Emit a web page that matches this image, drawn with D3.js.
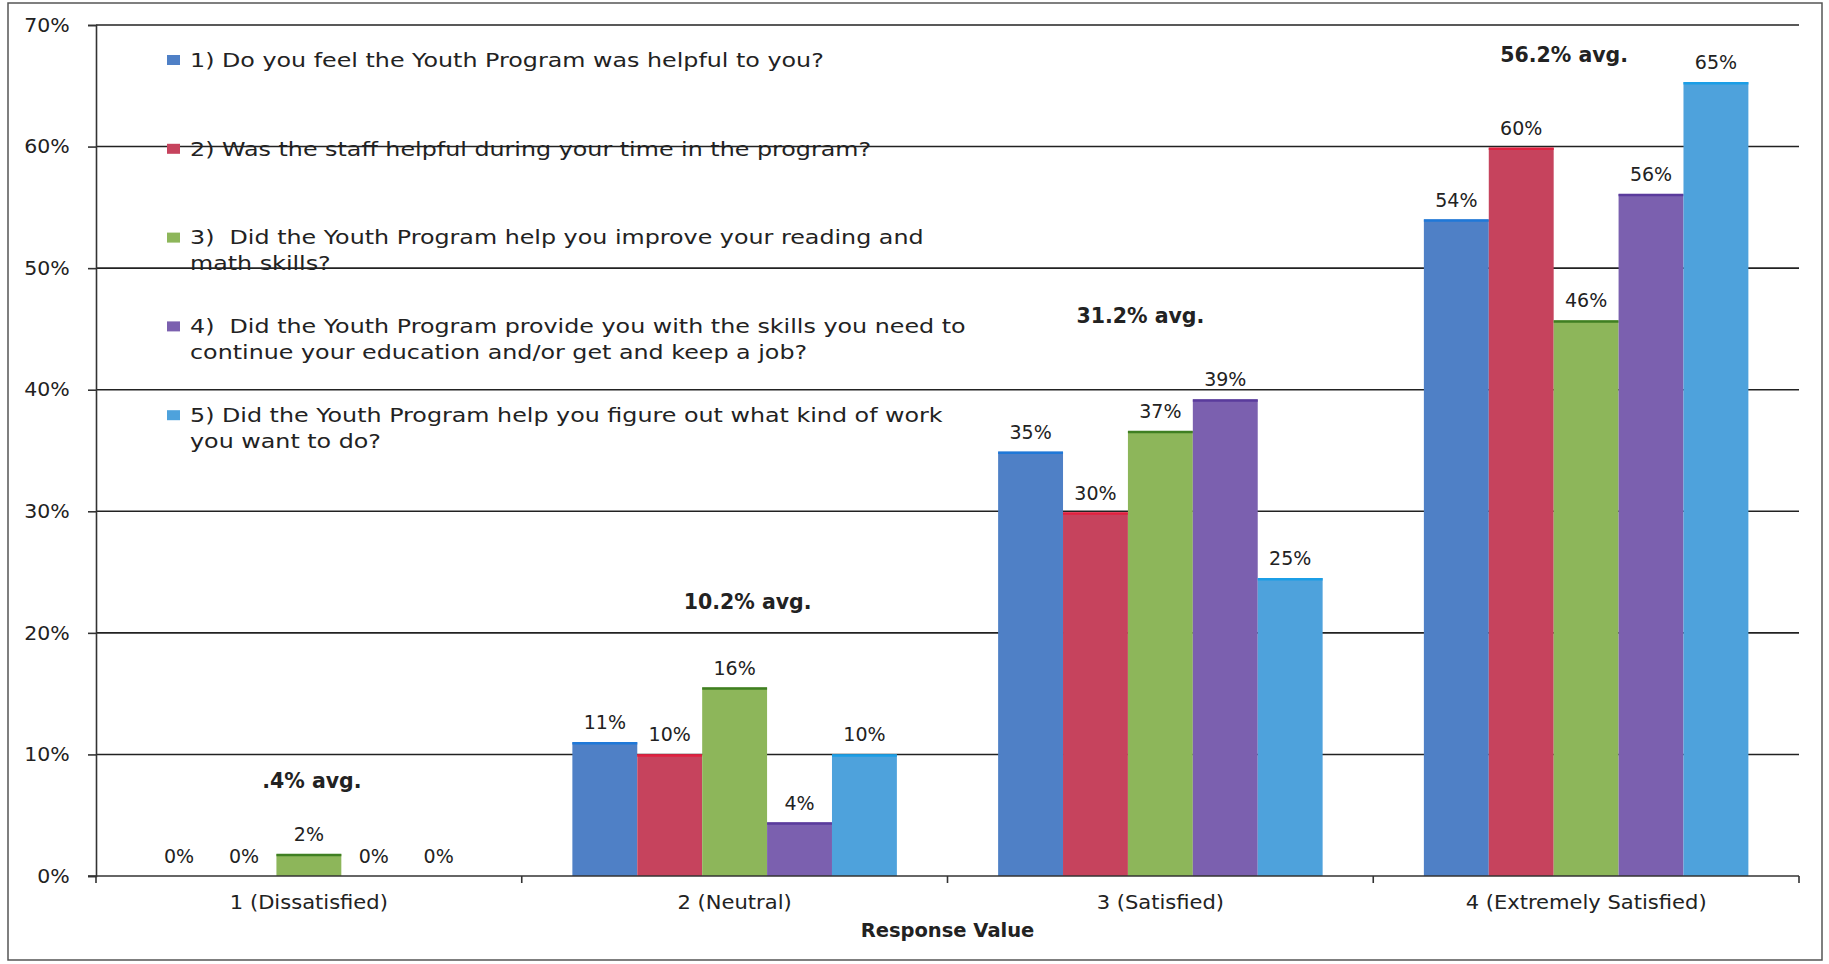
<!DOCTYPE html>
<meta charset="utf-8">
<style>
html, body {
    margin: 0;
    background: white;
}
svg text {
    font-family: "DejaVu Sans", sans-serif;
    fill: #222;
}
.legend text {
    white-space: pre;
}
.grid line {
    stroke: #222;
    stroke-width: 1.6px;
}
.axis path, .axis line {
    stroke: #333;
    stroke-width: 1.6px;
}
</style>
<body>
<script src="https://d3js.org/d3.v7.min.js"></script>
<script>

var width = 1829,
    height = 964;

// categories along the x axis
var categories = ["1 (Dissatisfied)", "2 (Neutral)", "3 (Satisfied)", "4 (Extremely Satisfied)"];

// one array per question, values in percent
var q1 = [0, 11, 34.9, 54];
var q2 = [0, 10, 29.9, 59.9];
var q3 = [1.8, 15.5, 36.6, 45.7];
var q4 = [0, 4.4, 39.2, 56.1];
var q5 = [0, 10, 24.5, 65.3];

var seriesNames = [
    ["1) Do you feel the Youth Program was helpful to you?"],
    ["2) Was the staff helpful during your time in the program?"],
    ["3)  Did the Youth Program help you improve your reading and", "math skills?"],
    ["4)  Did the Youth Program provide you with the skills you need to", "continue your education and/or get and keep a job?"],
    ["5) Did the Youth Program help you figure out what kind of work", "you want to do?"]
];
var seriesFill = ["#4f80c6", "#c6435d", "#8db65a", "#7b60af", "#4ea2dc"];
var seriesEdge = ["#1f78d8", "#e0203f", "#3f7f22", "#5a3b9c", "#1b9ee6"];

var yTicks = [0, 10, 20, 30, 40, 50, 60, 70];

// average notes: text, category, offset from the band centre, height in percent
var avgText = [".4% avg.", "10.2% avg.", "31.2% avg.", "56.2% avg."];
var avgShift = [3, 13, -20, -22];
var avgLevel = [7.8, 22.5, 46.1, 67.5];

var allSeries = [q1, q2, q3, q4, q5];

var margin = {left: 96, right: 30, top: 25, bottom: 88};

var svg = d3.select("body").append("svg")
    .attr("width", width)
    .attr("height", height);

svg.append("rect")
    .attr("x", 8)
    .attr("y", 3)
    .attr("width", 1814)
    .attr("height", 957)
    .attr("fill", "none")
    .attr("stroke", "#555")
    .attr("stroke-width", 1.5);

var x0 = d3.scaleBand()
    .domain(categories)
    .range([margin.left, width - margin.right])
    .padding(0);

var x1 = d3.scaleBand()
    .domain(d3.range(allSeries.length))
    .range([0, x0.bandwidth()])
    .paddingInner(0)
    .paddingOuter(0.78);

var y = d3.scaleLinear()
    .domain([0, 70])
    .range([height - margin.bottom, margin.top]);

// gridlines
svg.append("g")
    .attr("class", "grid")
    .selectAll("line")
    .data(yTicks.filter(d => d > 0))
    .enter().append("line")
    .attr("x1", margin.left)
    .attr("x2", width - margin.right)
    .attr("y1", d => y(d))
    .attr("y2", d => y(d));

// legend (no box, gridlines run through it); the scanned text is wide, so stretch it
var legend = svg.append("g").attr("class", "legend");
seriesNames.forEach(function(lines, i) {
    var ly = 60 + i * 88.8;
    legend.append("rect")
        .attr("x", 167)
        .attr("y", ly - 5)
        .attr("width", 13)
        .attr("height", 10)
        .attr("fill", seriesFill[i]);
    lines.forEach(function(t, j) {
        legend.append("text")
            .attr("transform", "translate(190," + (ly + j * 26) + ") scale(1.22,1)")
            .attr("dominant-baseline", "central")
            .attr("font-size", "19.5px")
            .text(t);
    });
});

// bars
var groups = svg.append("g")
    .selectAll("g")
    .data(categories)
    .enter().append("g")
    .attr("transform", d => "translate(" + x0(d) + ",0)");

groups.each(function(cat, ci) {
    var g = d3.select(this);
    allSeries.forEach(function(s, si) {
        var v = s[ci];
        if (v > 0) {
            g.append("rect")
                .attr("x", x1(si))
                .attr("y", y(v))
                .attr("width", x1.bandwidth())
                .attr("height", y(0) - y(v))
                .attr("fill", seriesFill[si]);
            g.append("line")
                .attr("x1", x1(si))
                .attr("x2", x1(si) + x1.bandwidth())
                .attr("y1", y(v) + 1)
                .attr("y2", y(v) + 1)
                .attr("stroke", seriesEdge[si])
                .attr("stroke-width", 2.5);
        }
        g.append("text")
            .attr("x", x1(si) + x1.bandwidth() / 2)
            .attr("y", y(v) - 20)
            .attr("text-anchor", "middle")
            .attr("dominant-baseline", "central")
            .attr("font-size", "19px")
            .text(Math.round(v) + "%");
    });
});

// y axis
var yAxis = svg.append("g")
    .attr("class", "axis")
    .attr("transform", "translate(" + margin.left + ",0)")
    .call(d3.axisLeft(y).tickValues(yTicks).tickFormat(d => d + "%").tickSize(8).tickPadding(17));
yAxis.selectAll("text")
    .attr("font-size", "19.5px")
    .attr("transform", "scale(1.05,1)")
    .attr("font-family", "DejaVu Sans, sans-serif")
    .attr("fill", "#333");

// x axis
var xAxis = svg.append("g")
    .attr("class", "axis")
    .attr("transform", "translate(0," + y(0) + ")")
    .call(d3.axisBottom(x0).tickSize(0).tickPadding(19));
xAxis.select(".domain").remove();
xAxis.append("line")
    .attr("x1", margin.left - 8)
    .attr("x2", width - margin.right)
    .attr("stroke", "#333")
    .attr("stroke-width", 1.6);
xAxis.selectAll(".bound")
    .data(d3.range(categories.length + 1))
    .enter().append("line")
    .attr("class", "bound")
    .attr("x1", i => margin.left + i * x0.step())
    .attr("x2", i => margin.left + i * x0.step())
    .attr("y1", 0)
    .attr("y2", 7);
xAxis.selectAll(".tick text")
    .attr("font-size", "19.5px")
    .attr("transform", "scale(1.08,1)")
    .attr("font-family", "DejaVu Sans, sans-serif")
    .attr("fill", "#222");

svg.append("text")
    .attr("x", (margin.left + width - margin.right) / 2)
    .attr("y", 930)
    .attr("text-anchor", "middle")
    .attr("dominant-baseline", "central")
    .attr("font-size", "19.5px")
    .attr("font-weight", "bold")
    .text("Response Value");

// average notes
svg.append("g")
    .selectAll("text")
    .data(avgText)
    .enter().append("text")
    .attr("x", (d, i) => x0(categories[i]) + x0.bandwidth() / 2 + avgShift[i])
    .attr("y", (d, i) => y(avgLevel[i]))
    .attr("text-anchor", "middle")
    .attr("dominant-baseline", "central")
    .attr("font-size", "20.5px")
    .attr("font-weight", "bold")
    .text(d => d);

</script>
